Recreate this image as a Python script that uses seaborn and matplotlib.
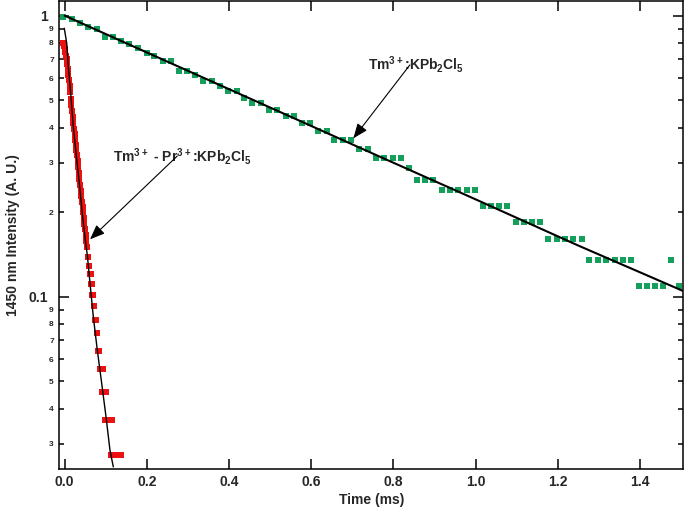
import seaborn as sns
import matplotlib.pyplot as plt
import pandas as pd
from matplotlib.ticker import FixedLocator, FixedFormatter

# Tm3+:KPb2Cl5 decay (green squares)
green_t = [-0.003, 0.017, 0.037, 0.057, 0.078, 0.098, 0.118, 0.137, 0.157, 0.179,
           0.200, 0.218, 0.238, 0.258, 0.279, 0.297, 0.317, 0.337, 0.358, 0.378,
           0.398, 0.419, 0.436, 0.457, 0.478, 0.497, 0.517, 0.539, 0.558,
           0.577, 0.597, 0.617, 0.638, 0.656, 0.677, 0.696, 0.717, 0.737, 0.758,
           0.778, 0.798, 0.818, 0.839, 0.857, 0.877, 0.897, 0.917,
           0.938, 0.958, 0.978, 0.999,
           1.017, 1.037, 1.058, 1.077, 1.098, 1.118, 1.138, 1.157, 1.177, 1.197,
           1.218, 1.238, 1.258, 1.277, 1.297, 1.317, 1.338, 1.358, 1.377, 1.398,
           1.418, 1.437, 1.457, 1.476, 1.496]
green_y = [0.992, 0.973, 0.944, 0.914, 0.895, 0.838, 0.842, 0.815, 0.793, 0.766,
           0.735, 0.719, 0.692, 0.692, 0.637, 0.637, 0.614, 0.587, 0.587, 0.563,
           0.538, 0.538, 0.509, 0.489, 0.489, 0.462, 0.462, 0.438, 0.438,
           0.414, 0.414, 0.389, 0.389, 0.362, 0.362, 0.362, 0.336, 0.336, 0.312,
           0.312, 0.312, 0.312, 0.287, 0.261, 0.261, 0.261, 0.240,
           0.240, 0.240, 0.240, 0.240,
           0.211, 0.211, 0.211, 0.211, 0.185, 0.185, 0.185, 0.185, 0.160, 0.160,
           0.160, 0.160, 0.160, 0.135, 0.135, 0.135, 0.135, 0.135, 0.135, 0.109,
           0.109, 0.109, 0.109, 0.135, 0.109]

# Tm3+ - Pr3+:KPb2Cl5 decay (red squares)
red_t = [-0.003, -0.0015, 0.0, 0.0015, 0.003, 0.0045, 0.006, 0.0075, 0.009, 0.0105,
         0.012, 0.0135, 0.015, 0.0165, 0.018, 0.0195, 0.021, 0.0225, 0.024, 0.0255,
         0.027, 0.0285, 0.030, 0.0315, 0.033, 0.0345, 0.036, 0.0375, 0.039, 0.0405,
         0.042, 0.0435, 0.045, 0.0465, 0.048, 0.0495, 0.051, 0.0525, 0.054,
         0.0555, 0.057, 0.0585, 0.060, 0.0615, 0.063, 0.0645, 0.066, 0.0675, 0.069,
         0.0705, 0.072, 0.0735, 0.075, 0.0765, 0.078, 0.0795, 0.081, 0.0825, 0.084,
         0.0855, 0.087, 0.0885, 0.090, 0.0915, 0.093, 0.0945, 0.096, 0.0975, 0.099,
         0.1005, 0.102, 0.1035, 0.105, 0.1065, 0.108, 0.1095, 0.111, 0.1125, 0.114,
         0.1155, 0.117, 0.1185, 0.120, 0.1215, 0.123, 0.1245, 0.126, 0.1275, 0.129,
         0.1305, 0.132, 0.1335, 0.135, 0.1365, 0.138]
red_y = [0.802, 0.781, 0.760, 0.740, 0.720, 0.701, 0.675, 0.645, 0.617, 0.590,
         0.561, 0.533, 0.506, 0.482, 0.458, 0.436, 0.415, 0.395, 0.378, 0.362,
         0.347, 0.333, 0.319, 0.304, 0.289, 0.275, 0.262, 0.249, 0.238, 0.228,
         0.218, 0.208, 0.200, 0.190, 0.182, 0.174, 0.166, 0.158, 0.150,
         0.1387, 0.1387, 0.1289, 0.1289, 0.1204, 0.1204, 0.1110, 0.1110, 0.1014, 0.1014,
         0.0924, 0.0924, 0.0829, 0.0829, 0.0829, 0.0741, 0.0741, 0.0641, 0.0641, 0.0641,
         0.0552, 0.0552, 0.0552, 0.0552, 0.0459, 0.0552, 0.0459, 0.0459, 0.0459, 0.0363,
         0.0459, 0.0363, 0.0363, 0.0363, 0.0363, 0.0363, 0.0363, 0.0363, 0.0274, 0.0363,
         0.0274, 0.0274, 0.0274, 0.0274, 0.0274, 0.0274, 0.0274, 0.0274, 0.0274, 0.0274,
         0.0274, 0.0274, 0.0274, 0.0274, 0.0274, 0.0274]

# fitted curves (black)
green_fit_t = [0.0, 0.25, 0.5, 0.75, 1.0, 1.25, 1.51]
green_fit_y = [1.0, 0.686, 0.471, 0.323, 0.222, 0.152, 0.104]
red_fit_t = [-0.001, 0.0049, 0.0088, 0.0146, 0.0209, 0.0275, 0.0348, 0.0428, 0.0511,
             0.055, 0.0616, 0.0696, 0.0793, 0.090, 0.1005, 0.1102, 0.1183]
red_fit_y = [0.902, 0.798, 0.658, 0.529, 0.403, 0.324, 0.260, 0.198, 0.155,
             0.1407, 0.1116, 0.0849, 0.0646, 0.0492, 0.0374, 0.0284, 0.0248]

# axis ticks
x_ticks = [0.0, 0.2, 0.4, 0.6, 0.8, 1.0, 1.2, 1.4]
x_labels = ['0.0', '0.2', '0.4', '0.6', '0.8', '1.0', '1.2', '1.4']
y_major = [0.1, 1.0]
y_major_labels = ['0.1', '1']
y_minor = [0.03, 0.04, 0.05, 0.06, 0.07, 0.08, 0.09,
           0.2, 0.3, 0.4, 0.5, 0.6, 0.7, 0.8, 0.9]
y_minor_labels = ['3', '4', '5', '6', '7', '8', '9',
                  '2', '3', '4', '5', '6', '7', '8', '9']

sns.set_theme(style='ticks')
plt.rcParams['font.family'] = ['Liberation Sans', 'DejaVu Sans']
plt.rcParams['font.weight'] = 'bold'
plt.rcParams['axes.labelweight'] = 'bold'
plt.rcParams['mathtext.default'] = 'regular'

fig = plt.figure(figsize=(6.85, 5.13), dpi=100)
ax = fig.add_axes([0.0866, 0.0848, 0.911, 0.9133])
ax.set_yscale('log')

green = pd.DataFrame({'t': green_t, 'y': green_y})
red = pd.DataFrame({'t': red_t, 'y': red_y})

sns.scatterplot(data=green, x='t', y='y', marker='s', s=18, color='#14a05a',
                linewidth=0, legend=False, ax=ax)
sns.scatterplot(data=red, x='t', y='y', marker='s', s=16, color='#ee1111',
                linewidth=0, legend=False, ax=ax)
sns.lineplot(x=green_fit_t, y=green_fit_y, color='black', lw=1.5, sort=False,
             estimator=None, ax=ax)
sns.lineplot(x=red_fit_t, y=red_fit_y, color='black', lw=1.0, sort=False,
             estimator=None, ax=ax)

ax.set_xlim(-0.0131, 1.5055)
ax.set_ylim(0.02427, 1.128)

ax.xaxis.set_major_locator(FixedLocator(x_ticks))
ax.xaxis.set_major_formatter(FixedFormatter(x_labels))
ax.xaxis.set_minor_locator(FixedLocator([]))
ax.yaxis.set_major_locator(FixedLocator(y_major))
ax.yaxis.set_major_formatter(FixedFormatter(y_major_labels))
ax.yaxis.set_minor_locator(FixedLocator(y_minor))
ax.yaxis.set_minor_formatter(FixedFormatter(y_minor_labels))

ax.tick_params(which='both', direction='in', top=True, right=True,
               labelright=False, labeltop=False, width=1.1, color='black')
ax.tick_params(which='major', length=7.5, labelsize=10, pad=4)
ax.tick_params(axis='y', which='major', pad=8)
ax.tick_params(which='minor', length=3.8, labelsize=6, pad=4)
for lab in ax.get_xticklabels() + ax.get_yticklabels(which='both'):
    lab.set_fontweight('bold')
for sp in ax.spines.values():
    sp.set_linewidth(1.1)
    sp.set_color('black')

ax.set_xlabel('Time (ms)', fontsize=10, fontweight='bold')
ax.set_ylabel('1450 nm Intensity (A. U.)', fontsize=10, fontweight='bold')
ax.xaxis.set_label_coords(0.5, -0.050)
ax.yaxis.set_label_coords(-0.063, 0.5)

arrow = dict(arrowstyle='-|>,head_length=0.45,head_width=0.18', color='black',
             lw=0.8, mutation_scale=20, shrinkA=0, shrinkB=0)
ax.text(0.738, 0.645, 'Tm$^{3+}$:KPb$_2$Cl$_5$', fontsize=10, fontweight='bold',
        ha='left', va='baseline')
ax.annotate('', xy=(0.7024, 0.366), xytext=(0.840, 0.668), arrowprops=arrow)
ax.text(0.1183, 0.302, 'Tm$^{3+}$ - Pr$^{3+}$:KPb$_2$Cl$_5$', fontsize=10,
        fontweight='bold', ha='left', va='baseline')
ax.annotate('', xy=(0.0616, 0.160), xytext=(0.274, 0.3167), arrowprops=arrow)

fig.savefig('out.png', dpi=100)
